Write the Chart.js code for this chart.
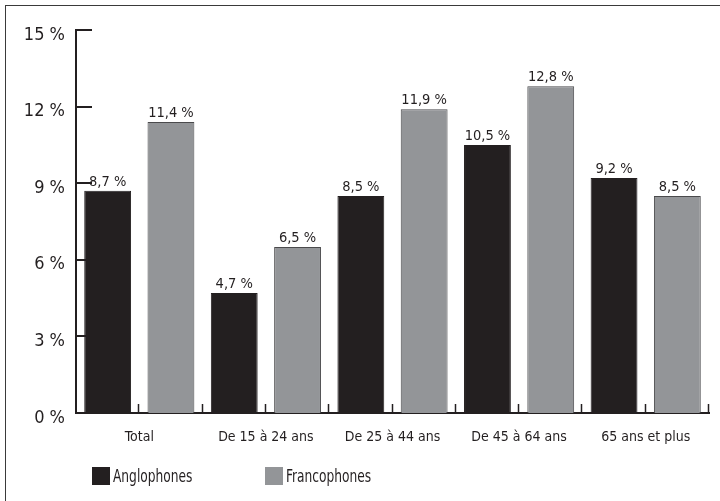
<!DOCTYPE html>
<html lang="fr">
<head>
<meta charset="utf-8">
<title>Taux par groupe d'âge</title>
<script src="https://cdn.jsdelivr.net/npm/chart.js@4/dist/chart.umd.min.js"></script>
<style>
  html, body { margin: 0; padding: 0; background: #fff; }
  #wrap { position: relative; width: 720px; height: 501px; overflow: hidden; }
  #frame { position: absolute; left: 5px; top: 5px; width: 800px; height: 600px;
           border-left: 1.5px solid #3a3a3a; border-top: 1.5px solid #3a3a3a; }
  canvas { position: absolute; left: 0; top: 0; }
  .leg { position: absolute; top: 467px; height: 18px; display: flex; align-items: center; }
  .leg i { display: inline-block; width: 18px; height: 18px; margin-right: 3px; }
  .leg span { display: inline-block; transform: scaleX(0.8); transform-origin: left center;
              font-family: "Liberation Sans Narrow", "DejaVu Sans Condensed", "Arial Narrow", sans-serif;
              font-size: 17px; color: #231f20; white-space: nowrap; }
</style>
</head>
<body>
<div id="wrap">
  <div id="frame"></div>
  <canvas id="c" width="720" height="501"></canvas>
  <div class="leg" style="left:92px"><i style="background:#231f20"></i><span>Anglophones</span></div>
  <div class="leg" style="left:265px"><i style="background:#939598"></i><span>Francophones</span></div>
</div>
<script>
// Groupes d'âge
const categories = ['Total', 'De 15 à 24 ans', 'De 25 à 44 ans', 'De 45 à 64 ans', '65 ans et plus'];
// Taux (%) par groupe linguistique
const anglophones = [8.7, 4.7, 8.5, 10.5, 9.2];
const francophones = [11.4, 6.5, 11.9, 12.8, 8.5];
// Graduations de l'axe vertical
const yTicks = [0, 3, 6, 9, 12, 15];

const FONT = '"Liberation Sans Narrow", "DejaVu Sans Condensed", "Arial Narrow", sans-serif';
const INK = '#231f20';

const fmt = v => v.toFixed(1).replace('.', ',') + ' %';

// Short inward ticks on both axes and value labels above the bars
const axisDecor = {
  id: 'axisDecor',
  afterDraw(chart) {
    const { ctx, chartArea: a, scales: { x, y } } = chart;
    ctx.save();
    ctx.strokeStyle = INK;
    ctx.lineWidth = 2;
    // y-axis ticks pointing into the plot
    yTicks.forEach(v => {
      if (v === 0) return;
      const py = Math.round(y.getPixelForValue(v));
      ctx.beginPath();
      ctx.moveTo(a.left, py);
      ctx.lineTo(a.left + 16, py);
      ctx.stroke();
    });
    // x-axis ticks between every bar slot, pointing up
    const slots = categories.length * 2;
    const w = (a.right - a.left) / slots;
    ctx.lineWidth = 1.5;
    for (let i = 1; i <= slots; i++) {
      const px = Math.round(a.left + i * w) - 0.5;
      ctx.beginPath();
      ctx.moveTo(px, a.bottom - 1);
      ctx.lineTo(px, a.bottom - 9);
      ctx.stroke();
    }
    // value labels
    ctx.fillStyle = INK;
    ctx.font = '14.5px ' + FONT;
    ctx.textAlign = 'center';
    ctx.textBaseline = 'alphabetic';
    chart.data.datasets.forEach((ds, di) => {
      chart.getDatasetMeta(di).data.forEach((bar, i) => {
        ctx.fillText(fmt(ds.data[i]), bar.x, bar.y - 5);
      });
    });
    ctx.restore();
  }
};

new Chart(document.getElementById('c'), {
  type: 'bar',
  data: {
    labels: categories,
    datasets: [
      { label: 'Anglophones', data: anglophones, backgroundColor: INK,
        borderColor: INK, borderWidth: 1 },
      { label: 'Francophones', data: francophones, backgroundColor: '#939598',
        borderColor: '#4a4a4c', borderWidth: 1 }
    ]
  },
  options: {
    responsive: false,
    animation: false,
    devicePixelRatio: 1,
    layout: { padding: { left: 0, top: 30, right: 11, bottom: 0 } },
    datasets: { bar: { categoryPercentage: 1.0, barPercentage: 0.74 } },
    plugins: { legend: { display: false }, tooltip: { enabled: false } },
    scales: {
      x: {
        grid: { display: false, drawTicks: false },
        border: { display: true, color: INK, width: 2 },
        ticks: { color: INK, font: { family: FONT, size: 14 }, padding: 16, maxRotation: 0 },
        afterFit(s) { s.height = 88; }
      },
      y: {
        min: 0, max: 15,
        afterBuildTicks(s) { s.ticks = yTicks.map(v => ({ value: v })); },
        grid: { display: false, drawTicks: false },
        border: { display: true, color: INK, width: 2 },
        ticks: { color: INK, font: { family: FONT, size: 18 }, padding: 11, labelOffset: 5,
                 callback: v => v + ' %' },
        afterFit(s) { s.width = 76; }
      }
    }
  },
  plugins: [axisDecor]
});
</script>
</body>
</html>
